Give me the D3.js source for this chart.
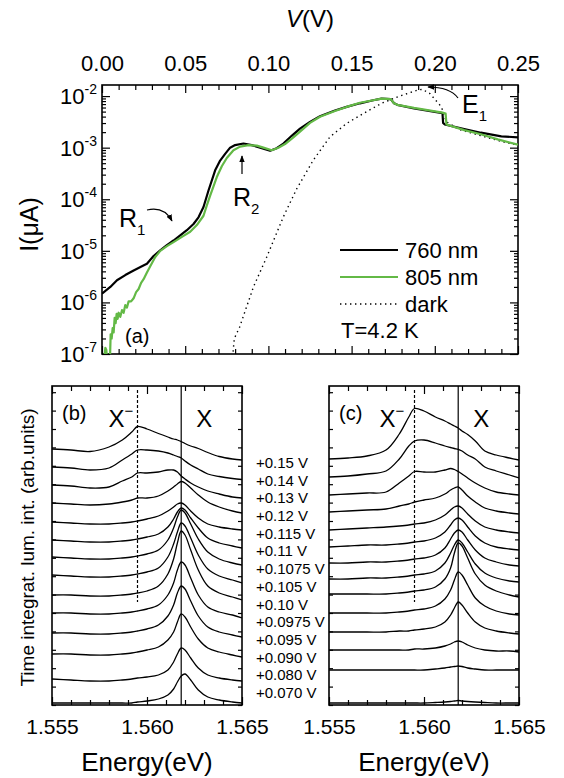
<!DOCTYPE html>
<html><head><meta charset="utf-8">
<script src="https://cdn.jsdelivr.net/npm/d3@7"></script>
<style>
body{margin:0;background:#fff}
svg{display:block}
text{font-family:"Liberation Sans",Arial,Helvetica,sans-serif;fill:#000}
</style>
</head><body>
<svg id="fig" width="564" height="778"></svg>
<script>
// ---------- panel (a): I–V curves, log current ----------
const iv760 = [[0.000,-5.83],[0.005,-5.70],[0.009,-5.57],[0.014,-5.47],[0.019,-5.38],[0.024,-5.30],[0.027,-5.25],[0.031,-5.10],[0.035,-4.99],[0.039,-4.89],[0.043,-4.80],[0.047,-4.70],[0.051,-4.60],[0.055,-4.48],[0.058,-4.35],[0.061,-4.15],[0.064,-3.83],[0.068,-3.44],[0.071,-3.25],[0.074,-3.12],[0.077,-3.00],[0.080,-2.95],[0.085,-2.92],[0.090,-2.95],[0.095,-3.00],[0.101,-3.06],[0.105,-3.01],[0.109,-2.92],[0.114,-2.77],[0.119,-2.63],[0.125,-2.50],[0.131,-2.39],[0.140,-2.28],[0.147,-2.21],[0.155,-2.14],[0.163,-2.08],[0.168,-2.05],[0.1735,-2.06],[0.1755,-2.14],[0.1775,-2.17],[0.1875,-2.24],[0.2046,-2.33],[0.2050,-2.52],[0.2060,-2.55],[0.2177,-2.64],[0.2277,-2.71],[0.240,-2.78],[0.250,-2.80]];
const iv805 = [[0.0015,-7.05],[0.0020,-6.88],[0.0026,-6.92],[0.0030,-7.10],[0.0048,-7.10],[0.0052,-6.62],[0.0058,-6.70],[0.0064,-6.50],[0.0070,-6.58],[0.0076,-6.30],[0.0082,-6.40],[0.0088,-6.22],[0.0094,-6.32],[0.0100,-6.20],[0.0110,-6.28],[0.0120,-6.15],[0.0130,-6.20],[0.0140,-6.05],[0.0150,-6.10],[0.0160,-5.98],[0.0175,-5.98],[0.019,-5.92],[0.0205,-5.80],[0.022,-5.74],[0.0235,-5.62],[0.025,-5.55],[0.027,-5.42],[0.029,-5.30],[0.032,-5.12],[0.035,-5.00],[0.039,-4.91],[0.043,-4.83],[0.048,-4.73],[0.053,-4.63],[0.057,-4.50],[0.061,-4.32],[0.063,-4.12],[0.065,-3.93],[0.067,-3.75],[0.069,-3.57],[0.072,-3.36],[0.075,-3.20],[0.079,-3.05],[0.083,-2.98],[0.088,-2.95],[0.093,-2.96],[0.097,-3.00],[0.102,-3.05],[0.106,-3.00],[0.110,-2.93],[0.115,-2.80],[0.119,-2.69],[0.125,-2.52],[0.131,-2.40],[0.140,-2.29],[0.147,-2.21],[0.155,-2.13],[0.163,-2.08],[0.168,-2.05],[0.1735,-2.06],[0.1755,-2.14],[0.1775,-2.17],[0.1875,-2.23],[0.2046,-2.32],[0.2065,-2.34],[0.2070,-2.55],[0.2177,-2.66],[0.2277,-2.74],[0.2378,-2.84],[0.250,-2.94]];
const ivDark = [[0.0785,-7.05],[0.0795,-6.70],[0.0827,-6.48],[0.091,-5.70],[0.099,-5.12],[0.109,-4.34],[0.117,-3.80],[0.127,-3.24],[0.137,-2.79],[0.147,-2.53],[0.157,-2.34],[0.168,-2.14],[0.178,-2.01],[0.190,-1.88],[0.1925,-1.87],[0.197,-1.95],[0.204,-2.21],[0.207,-2.50],[0.215,-2.65],[0.228,-2.77],[0.240,-2.88],[0.250,-2.95]];
const legendLabels = ["760 nm","805 nm","dark"];
const voltTicks = d3.range(0, 0.2501, 0.01);
const decadeTicks = [-7,-6,-5,-4,-3,-2];

// ---------- panels (b),(c): PL spectra, one trace per bias ----------
const biasLabels = ["+0.15 V","+0.14 V","+0.13 V","+0.12 V","+0.115 V","+0.11 V","+0.1075 V","+0.105 V","+0.10 V","+0.0975 V","+0.095 V","+0.090 V","+0.080 V","+0.070 V"];
const energyGrid = [1.5550,1.5560,1.5570,1.5580,1.5587,1.5592,1.5595,1.5600,1.5606,1.5611,1.5614,1.5616,1.5618,1.5620,1.5623,1.5627,1.5632,1.5638,1.5645,1.5650];
const energyTicks = [1.555,1.560,1.565];
const peakTrion = 1.5595, peakExciton = 1.5618;
const spectraB = [
 [25.6,25.5,25.35,25.8,26.5,27.3,27.85,27.6,27.15,26.8,26.6,26.5,26.35,26.15,25.9,25.65,25.25,24.85,24.6,24.5],
 [23.8,23.7,23.5,23.7,24.5,25.1,25.5,25.5,25.4,25.2,25.0,24.85,24.7,24.4,24.0,23.6,23.1,22.85,22.65,22.55],
 [22.0,21.9,21.7,21.8,22.4,22.8,23.2,23.2,23.3,23.5,23.5,23.3,22.9,22.6,22.2,21.8,21.4,21.1,20.8,20.7],
 [20.2,20.1,20.0,20.1,20.3,20.5,20.7,20.7,20.9,21.4,21.8,22.1,22.35,22.2,21.7,21.0,20.3,19.8,19.4,19.2],
 [18.3,18.2,18.1,18.1,18.2,18.3,18.4,18.6,18.9,19.4,19.8,20.1,20.2,20.0,19.4,18.7,18.1,17.8,17.6,17.5],
 [16.5,16.4,16.3,16.3,16.4,16.5,16.6,16.8,17.1,17.8,18.6,19.3,19.7,19.5,18.7,17.7,16.7,16.2,15.9,15.7],
 [14.8,14.7,14.6,14.6,14.7,14.8,14.9,15.1,15.5,16.5,17.7,18.8,19.5,19.2,18.1,16.6,15.3,14.6,14.2,14.0],
 [13.0,12.9,12.8,12.8,12.9,13.0,13.1,13.3,13.7,14.8,16.1,17.3,18.2,17.9,16.7,15.0,13.6,12.9,12.5,12.2],
 [11.0,11.0,10.9,10.9,11.0,11.1,11.2,11.4,11.9,13.1,14.6,16.2,17.4,17.0,15.5,13.5,11.9,11.2,10.8,10.5],
 [9.2,9.2,9.1,9.1,9.2,9.3,9.4,9.6,10.0,11.0,12.2,13.5,14.3,14.0,12.7,11.0,9.8,9.3,9.0,8.7],
 [7.2,7.2,7.1,7.1,7.2,7.3,7.4,7.6,8.0,8.9,10.0,11.2,11.9,11.6,10.4,8.9,7.8,7.3,7.0,6.8],
 [5.1,5.1,5.0,5.0,5.1,5.2,5.3,5.5,5.8,6.5,7.3,8.3,9.1,8.8,7.8,6.6,5.7,5.3,5.0,4.8],
 [2.6,2.5,2.4,2.4,2.5,2.6,2.7,2.8,3.0,3.5,4.3,5.1,5.7,5.5,4.7,3.7,3.0,2.7,2.5,2.4],
 [0.2,0.2,0.2,0.2,0.2,0.2,0.3,0.4,0.6,1.0,1.6,2.3,2.9,3.1,2.5,1.5,0.8,0.5,0.3,0.2]
];
const spectraC = [
 [24.6,24.7,24.9,25.5,27.1,28.8,29.65,29.4,28.8,28.4,28.1,27.9,27.7,27.4,27.05,26.4,25.4,25.0,24.7,24.5],
 [22.8,22.9,23.1,23.4,24.6,25.9,26.4,26.5,26.2,25.9,25.75,25.65,25.57,25.4,25.0,24.6,23.8,23.4,23.0,22.7],
 [21.0,21.1,21.2,21.3,22.2,22.9,23.35,23.3,23.3,23.5,23.65,23.55,23.35,23.1,22.7,22.2,21.7,21.3,21.1,21.0],
 [19.3,19.4,19.5,19.6,19.9,20.1,20.3,20.5,20.7,21.1,21.5,21.7,21.8,21.5,20.9,20.3,19.7,19.4,19.2,19.1],
 [17.5,17.6,17.7,17.8,17.9,18.0,18.1,18.2,18.5,19.0,19.5,19.8,19.9,19.7,19.1,18.4,17.8,17.5,17.3,17.2],
 [15.8,15.9,16.0,16.0,16.1,16.2,16.3,16.4,16.7,17.3,18.0,18.5,18.7,18.5,17.8,16.9,16.2,15.8,15.6,15.5],
 [14.2,14.2,14.3,14.3,14.4,14.5,14.6,14.7,15.0,15.7,16.6,17.2,17.5,17.3,16.5,15.5,14.7,14.3,14.0,13.9],
 [12.6,12.6,12.7,12.7,12.8,12.9,13.0,13.1,13.4,14.2,15.2,16.0,16.5,16.2,15.3,14.1,13.2,12.7,12.4,12.3],
 [11.1,11.1,11.1,11.1,11.2,11.3,11.4,11.5,11.8,12.6,13.7,15.2,16.2,15.9,14.7,13.1,12.0,11.4,11.0,10.8],
 [9.2,9.2,9.2,9.2,9.3,9.4,9.5,9.6,9.9,10.6,11.5,12.5,13.3,13.0,12.0,10.7,9.9,9.4,9.1,9.0],
 [7.3,7.3,7.3,7.3,7.4,7.4,7.5,7.6,7.8,8.3,9.0,9.7,10.3,10.0,9.2,8.3,7.7,7.4,7.2,7.1],
 [5.5,5.5,5.5,5.5,5.5,5.5,5.6,5.6,5.7,5.9,6.1,6.3,6.4,6.3,6.0,5.7,5.5,5.4,5.4,5.3],
 [3.5,3.5,3.5,3.5,3.5,3.5,3.5,3.5,3.6,3.7,3.8,3.85,3.9,3.85,3.7,3.6,3.5,3.5,3.5,3.5],
 [0.2,0.2,0.2,0.2,0.2,0.2,0.2,0.2,0.25,0.3,0.35,0.4,0.45,0.4,0.35,0.3,0.25,0.2,0.2,0.2]
];

const svg = d3.select("#fig");
const defs = svg.append("defs");
defs.append("marker").attr("id","arrow").attr("viewBox","0 0 10 10")
  .attr("refX",9).attr("refY",5).attr("markerWidth",7).attr("markerHeight",7)
  .attr("orient","auto-start-reverse").attr("markerUnits","userSpaceOnUse")
  .append("path").attr("d","M0,1 L10,5 L0,9 Z").attr("fill","#000");

function styleAxis(g){
  g.select(".domain").remove();
  g.selectAll(".tick line").attr("stroke","#000").attr("stroke-width",1.2);
  g.selectAll(".tick text").attr("fill","#000").attr("font-family","Liberation Sans, Arial, sans-serif");
}

// ===== panel (a) =====
const A = {l:102, r:518, t:85, b:354};
const ax = d3.scaleLinear().domain([0,0.25]).range([A.l,A.r]);
const ay = d3.scaleLog().domain([1e-7,0.0164]).range([A.b,A.t]);
const isMajorV = v => Math.abs(v/0.05 - Math.round(v/0.05)) < 1e-6;

const gTop = svg.append("g").attr("transform",`translate(0,${A.t})`)
  .call(d3.axisTop(ax).tickValues(voltTicks).tickSizeInner(-5).tickSizeOuter(0).tickPadding(14)
    .tickFormat(v => isMajorV(v) ? d3.format(".2f")(v) : ""));
styleAxis(gTop);
gTop.selectAll(".tick line").attr("y2", v => isMajorV(v) ? 8 : 5);
gTop.selectAll(".tick text").attr("font-size",22);

const gBot = svg.append("g").attr("transform",`translate(0,${A.b})`)
  .call(d3.axisBottom(ax).tickValues(voltTicks).tickSizeInner(-5).tickSizeOuter(0).tickFormat(""));
styleAxis(gBot);
gBot.selectAll(".tick line").attr("y2", v => isMajorV(v) ? -8 : -5);

const logTicks = [];
decadeTicks.forEach(e => { for (let m=1;m<=9;m++){ const v=m*Math.pow(10,e); if (v<=0.0164) logTicks.push(v);} });
const isDecade = v => Math.abs(Math.log10(v) - Math.round(Math.log10(v))) < 1e-9;
const gL = svg.append("g").attr("transform",`translate(${A.l},0)`)
  .call(d3.axisLeft(ay).tickValues(logTicks).tickSizeInner(-4).tickSizeOuter(0).tickFormat(""));
styleAxis(gL);
gL.selectAll(".tick line").attr("x2", v => isDecade(v) ? 8 : 4);
const gR = svg.append("g").attr("transform",`translate(${A.r},0)`)
  .call(d3.axisRight(ay).tickValues(logTicks).tickSizeInner(-4).tickSizeOuter(0).tickFormat(""));
styleAxis(gR);
gR.selectAll(".tick line").attr("x2", v => isDecade(v) ? -8 : -4);

// decade labels 10^n
const decLab = svg.append("g").selectAll("text").data(decadeTicks).join("text")
  .attr("x", A.l-5).attr("y", e => ay(Math.pow(10,e)) + 8)
  .attr("text-anchor","end").attr("font-size",22);
decLab.append("tspan").text("10");
decLab.append("tspan").attr("dy",-10).attr("font-size",14).text(e => "-" + (-e));

svg.append("rect").attr("x",A.l).attr("y",A.t).attr("width",A.r-A.l).attr("height",A.b-A.t)
  .attr("fill","none").attr("stroke","#000").attr("stroke-width",1.6);

defs.append("clipPath").attr("id","clipA").append("rect")
  .attr("x",A.l).attr("y",A.t).attr("width",A.r-A.l).attr("height",A.b-A.t);
const lineA = d3.line().x(d => ax(d[0])).y(d => ay(Math.pow(10,d[1])));
const gCurves = svg.append("g").attr("clip-path","url(#clipA)");
gCurves.append("path").datum(ivDark).attr("d",lineA).attr("fill","none")
  .attr("stroke","#000").attr("stroke-width",1.4).attr("stroke-dasharray","1.4,3.6");
gCurves.append("path").datum(iv760).attr("d",lineA).attr("fill","none")
  .attr("stroke","#000").attr("stroke-width",2.2).attr("stroke-linejoin","round");
gCurves.append("path").datum(iv805).attr("d",lineA).attr("fill","none")
  .attr("stroke","#63b946").attr("stroke-width",2.2).attr("stroke-linejoin","round");

// axis titles
const vt = svg.append("text").attr("x",(A.l+A.r)/2).attr("y",27).attr("text-anchor","middle").attr("font-size",24);
vt.append("tspan").attr("font-style","italic").text("V");
vt.append("tspan").text("(V)");
svg.append("text").attr("transform",`translate(38,${(A.t+A.b)/2+5}) rotate(-90)`)
  .attr("text-anchor","middle").attr("font-size",25).text("I(\u03BCA)");

// legend
const legY = [250, 277, 304];
const legStyle = [{c:"#000",d:null,w:2.2},{c:"#63b946",d:null,w:2.2},{c:"#000",d:"1.4,3.6",w:1.4}];
legendLabels.forEach((lab,i) => {
  svg.append("line").attr("x1",340).attr("x2",398).attr("y1",legY[i]).attr("y2",legY[i])
    .attr("stroke",legStyle[i].c).attr("stroke-width",legStyle[i].w).attr("stroke-dasharray",legStyle[i].d);
  svg.append("text").attr("x",405).attr("y",legY[i]+8).attr("font-size",22).text(lab);
});
svg.append("text").attr("x",341).attr("y",338).attr("font-size",22).text("T=4.2 K");
svg.append("text").attr("x",125).attr("y",343).attr("font-size",20).text("(a)");

// annotations R1, R2, E1
function subLabel(x,y,main,sub){
  const t = svg.append("text").attr("x",x).attr("y",y).attr("font-size",25);
  t.append("tspan").text(main);
  t.append("tspan").attr("dy",8).attr("font-size",15).text(sub);
}
subLabel(119,227,"R","1");
subLabel(233,206,"R","2");
subLabel(462,113,"E","1");
svg.append("path").attr("d","M147,210 Q164,206 172,221").attr("fill","none")
  .attr("stroke","#000").attr("stroke-width",1.2).attr("marker-end","url(#arrow)");
svg.append("path").attr("d","M242,174 L242,156").attr("fill","none")
  .attr("stroke","#000").attr("stroke-width",1.2).attr("marker-end","url(#arrow)");
svg.append("path").attr("d","M458,98 Q450,87 428,87").attr("fill","none")
  .attr("stroke","#000").attr("stroke-width",1.2).attr("marker-end","url(#arrow)");

// ===== panels (b) and (c) =====
const S = {t:386, b:705};
const sy = d3.scaleLinear().domain([0,31.9]).range([S.b,S.t]);
const intensityTicks = d3.range(0, 31.9, 1.84);
const energyMinor = d3.range(1.555, 1.56501, 0.001);
const isMajorE = v => Math.abs(v/0.005 - Math.round(v/0.005)) < 1e-6;

function spectraPanel(x0, x1, traces, tag, clipId, trionLabelDx){
  const sx = d3.scaleLinear().domain([1.555,1.565]).range([x0,x1]);
  const gb = svg.append("g").attr("transform",`translate(0,${S.b})`)
    .call(d3.axisBottom(sx).tickValues(energyMinor).tickSizeInner(-5).tickSizeOuter(0).tickPadding(14)
      .tickFormat(v => energyTicks.some(t => Math.abs(t-v)<1e-7) ? d3.format(".3f")(v) : ""));
  styleAxis(gb);
  gb.selectAll(".tick line").attr("y2", v => isMajorE(v) ? -8 : -5);
  gb.selectAll(".tick text").attr("font-size",21);
  const gt = svg.append("g").attr("transform",`translate(0,${S.t})`)
    .call(d3.axisTop(sx).tickValues(energyMinor).tickSizeInner(-5).tickSizeOuter(0).tickFormat(""));
  styleAxis(gt);
  gt.selectAll(".tick line").attr("y2", v => isMajorE(v) ? 8 : 5);
  const gl = svg.append("g").attr("transform",`translate(${x0},0)`)
    .call(d3.axisLeft(sy).tickValues(intensityTicks).tickSizeInner(-4).tickSizeOuter(0).tickFormat(""));
  styleAxis(gl);
  const gr = svg.append("g").attr("transform",`translate(${x1},0)`)
    .call(d3.axisRight(sy).tickValues(intensityTicks).tickSizeInner(-4).tickSizeOuter(0).tickFormat(""));
  styleAxis(gr);

  defs.append("clipPath").attr("id",clipId).append("rect")
    .attr("x",x0).attr("y",S.t).attr("width",x1-x0).attr("height",S.b-S.t);
  const line = d3.line().x((d,i) => sx(energyGrid[i])).y(d => sy(d)).curve(d3.curveCatmullRom.alpha(0.5));
  svg.append("g").attr("clip-path",`url(#${clipId})`).selectAll("path").data(traces).join("path")
    .attr("d", line).attr("fill","none").attr("stroke","#000").attr("stroke-width",1.3);

  // exciton (solid) and trion (dashed) positions
  svg.append("line").attr("x1",sx(peakExciton)).attr("x2",sx(peakExciton)).attr("y1",S.t).attr("y2",S.b)
    .attr("stroke","#000").attr("stroke-width",1.2);
  svg.append("line").attr("x1",sx(peakTrion)).attr("x2",sx(peakTrion)).attr("y1",S.t+4).attr("y2",sy(10.3))
    .attr("stroke","#000").attr("stroke-width",1.2).attr("stroke-dasharray","3,2");

  svg.append("rect").attr("x",x0).attr("y",S.t).attr("width",x1-x0).attr("height",S.b-S.t)
    .attr("fill","none").attr("stroke","#000").attr("stroke-width",1.6);

  svg.append("text").attr("x",x0+10).attr("y",S.t+34).attr("font-size",20).text(tag);
  const xm = svg.append("text").attr("x",sx(peakTrion)-trionLabelDx).attr("y",S.t+41).attr("font-size",24);
  xm.append("tspan").text("X");
  xm.append("tspan").attr("dy",-11).attr("font-size",15).text("\u2212");
  svg.append("text").attr("x",sx(peakExciton)+15).attr("y",S.t+41).attr("font-size",24).text("X");
  svg.append("text").attr("x",(x0+x1)/2).attr("y",771).attr("text-anchor","middle").attr("font-size",26).text("Energy(eV)");
}
spectraPanel(52, 242, spectraB, "(b)", "clipB", 29);
spectraPanel(329, 519, spectraC, "(c)", "clipC", 35);

// bias labels between the panels
const by = d3.scalePoint().domain(biasLabels).range([463, 693]);
svg.append("g").selectAll("text").data(biasLabels).join("text")
  .attr("x",256).attr("y",d => by(d)+5).attr("font-size",15).text(d => d);

svg.append("text").attr("transform",`translate(34,${(S.t+S.b)/2+2}) rotate(-90)`)
  .attr("text-anchor","middle").attr("font-size",19).text("Time integrat. lum. int. (arb.units)");
</script>
</body></html>
